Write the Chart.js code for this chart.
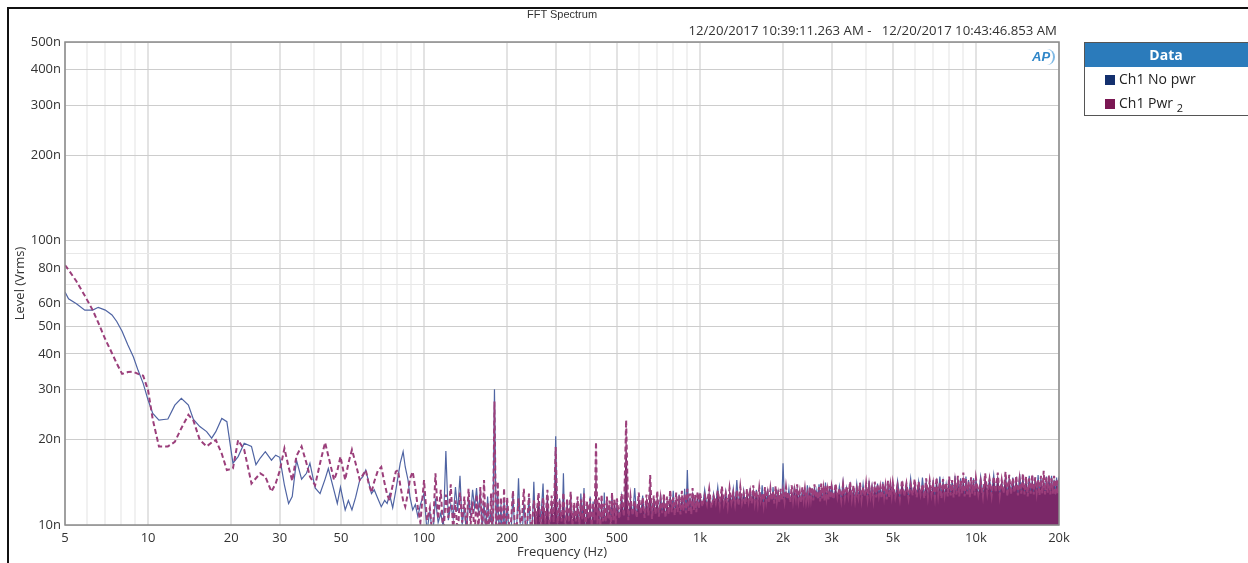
<!DOCTYPE html>
<html>
<head>
<meta charset="utf-8">
<script src="https://cdn.jsdelivr.net/npm/chart.js@4.4.1/dist/chart.umd.min.js"></script>
<style>
  body { margin: 0; background: #fff; font-family: 'Open Sans', sans-serif; }
  #wrap { position: relative; width: 1248px; height: 563px; overflow: hidden; }
  #frame { position: absolute; left: 7px; top: 7px; width: 1300px; height: 600px; border: 2px solid #111; }
  #title { position: absolute; left: 0; width: 1124px; top: 8px; text-align: center; font: 11px 'Liberation Sans', Arial, sans-serif; color: #333; }
  #stamp { position: absolute; right: 191px; top: 21px; font-size: 13.2px; color: #333; white-space: pre; }
  #logo { position: absolute; left: 1031px; top: 49px; font: italic bold 13px 'Liberation Sans', Arial, sans-serif; color: #2f86c8; border-right: 2px solid #7db8e4; border-radius: 0 9px 9px 0; padding: 0 3px 0 1px; line-height: 16px; }
  #legend { position: absolute; left: 1084px; top: 42px; width: 170px; border: 1px solid #555; background: #fff; }
  #legend .head { background: #2b7bbb; color: #fff; font-weight: bold; font-size: 14px; text-align: center; height: 24px; line-height: 24px; padding-right: 8px; }
  #legend .item { height: 24px; line-height: 24px; font-size: 14px; color: #222; padding-left: 20px; }
  #legend .sw { display: inline-block; width: 10px; height: 10px; margin-right: 4px; vertical-align: -1px; }
  canvas { position: absolute; left: 0; top: 0; }
</style>
</head>
<body>
<div id="wrap">
  <div id="frame"></div>
  <canvas id="fft" width="1248" height="563"></canvas>
  <div id="title">FFT Spectrum</div>
  <div id="stamp">12/20/2017 10:39:11.263 AM -   12/20/2017 10:43:46.853 AM</div>
  <div id="logo">AP</div>
  <div id="legend"><div class="head">Data</div></div>
</div>
<script>
// low band, 5 - 100 Hz (levels in nV)
const freqLowHz = [
  5, 5.15, 5.5, 5.9, 6.3, 6.6, 7.0, 7.4, 7.7, 8.05,
  8.45, 8.85, 9.2, 9.6, 10.0, 10.4, 10.95, 11.4, 11.8, 12.5,
  13.2, 14.0, 14.6, 15.4, 16.3, 17.0, 17.6, 18.5, 19.3, 20.3,
  21.2, 22.3, 23.7, 24.6, 25.5, 26.6, 28.0, 29.0, 30.0, 31.2,
  32.3, 33.3, 34.5, 36.0, 37.5, 38.6, 40.3, 42, 43.8, 45,
  47.2, 48.5, 49.8, 51.8, 53.2, 54.8, 56.5, 58.5, 60, 61.5,
  63, 64.5, 66, 68, 70, 72, 73.5, 75, 77, 79,
  80.5, 82, 84, 85.5, 87.5, 89, 91, 93, 95, 97
];
const noPwrLow = [
  66, 62.5, 60, 57, 57, 58.3, 57, 54.8, 52, 48,
  43, 39, 35, 31.5, 27.5, 24.7, 23.4, 23.5, 23.6, 26.4,
  27.9, 26.4, 23.5, 22.2, 21.3, 20.2, 21.3, 23.7, 23.1, 16.5,
  17.4, 19.4, 18.9, 16.3, 17.2, 18.1, 16.9, 17.6, 17.3, 13.8,
  11.9, 12.6, 16.9, 14.5, 15.2, 16.5, 13.5, 12.9, 14.5, 15.8,
  13.2, 11.9, 13.6, 11.3, 12.2, 11.3, 12.5, 14.4, 14.8, 15.6,
  14.2, 12.9, 13.3, 12.4, 11.6, 12.2, 11.9, 12.8, 11.5, 13.2,
  14.8, 16.5, 18.1, 16.0, 14.4, 12.5, 11.3, 11.8, 10.7, 11.8
];
const pwr2Low = [
  82, 79, 72, 64, 57, 51.5, 45, 40.2, 37, 34,
  34.5, 34.6, 34, 33.5, 29.8, 23.5, 18.9, 18.9, 18.9, 19.6,
  21.9, 24.4, 23.3, 19.9, 18.9, 19.5, 19.9, 17.8, 15.6, 15.8,
  19.9, 18.4, 14.0, 14.6, 15.2, 14.8, 13.1, 14.0, 15.5, 18.6,
  16.0, 14.3, 17.5, 18.9, 16.5, 14.8, 13.8, 16.5, 19.5, 17.5,
  14.4, 15.5, 17.4, 14.4, 16.5, 18.4, 16.5, 14.4, 15.0, 15.6,
  14.0, 13.0, 14.2, 15.5, 16.0, 14.0, 12.8, 12.2, 13.8, 15.4,
  15.6, 13.8, 12.2, 11.6, 13.0, 14.6, 15.4, 13.5, 11.5, 10.2
];

// dense band, 100 Hz - 20 kHz: FFT bins, peak then dip
const freqHiHz = [
  100, 102.5, 105, 107.5, 110, 112.5, 115, 117.5, 120, 122.5,
  125, 127.5, 130, 132.5, 135, 137.5, 140, 142.5, 145, 147.5,
  150, 152.5, 155, 157.5, 160, 162.5, 165, 167.5, 170, 172.5,
  175, 177.5, 180, 182.5, 185, 187.5, 190, 192.5, 195, 197.5,
  200, 205, 210, 215, 220, 225, 230, 235, 240, 245,
  250, 255, 260, 265, 270, 275, 280, 285, 290, 295,
  300, 305, 310, 315, 320, 325, 330, 335, 340, 345,
  350, 355, 360, 365, 370, 375, 380, 385, 390, 395,
  400, 405, 410, 415, 420, 425, 430, 435, 440, 445,
  450, 455, 460, 465, 470, 475, 480, 485, 490, 495,
  500, 510, 520, 530, 540, 550, 560, 570, 580, 590,
  600, 610, 620, 630, 640, 650, 660, 670, 680, 690,
  700, 710, 720, 730, 740, 750, 760, 770, 780, 790,
  800, 810, 820, 830, 840, 850, 860, 870, 880, 890,
  900, 910, 920, 930, 940, 950, 960, 970, 980, 990,
  1000, 1020, 1040, 1060, 1080, 1100, 1120, 1140, 1160, 1180,
  1200, 1220, 1240, 1260, 1280, 1300, 1320, 1340, 1360, 1380,
  1400, 1420, 1440, 1460, 1480, 1500, 1520, 1540, 1560, 1580,
  1600, 1620, 1640, 1660, 1680, 1700, 1720, 1740, 1760, 1780,
  1800, 1820, 1840, 1860, 1880, 1900, 1920, 1940, 1960, 1980,
  2000, 2025, 2050, 2075, 2100, 2125, 2150, 2175, 2200, 2225,
  2250, 2275, 2300, 2325, 2350, 2375, 2400, 2425, 2450, 2475,
  2500, 2525, 2550, 2575, 2600, 2625, 2650, 2675, 2700, 2725,
  2750, 2775, 2800, 2825, 2850, 2875, 2900, 2925, 2950, 2975,
  3000, 3050, 3100, 3150, 3200, 3250, 3300, 3350, 3400, 3450,
  3500, 3550, 3600, 3650, 3700, 3750, 3800, 3850, 3900, 3950,
  4000, 4050, 4100, 4150, 4200, 4250, 4300, 4350, 4400, 4450,
  4500, 4550, 4600, 4650, 4700, 4750, 4800, 4850, 4900, 4950,
  5000, 5100, 5200, 5300, 5400, 5500, 5600, 5700, 5800, 5900,
  6000, 6100, 6200, 6300, 6400, 6500, 6600, 6700, 6800, 6900,
  7000, 7100, 7200, 7300, 7400, 7500, 7600, 7700, 7800, 7900,
  8000, 8100, 8200, 8300, 8400, 8500, 8600, 8700, 8800, 8900,
  9000, 9100, 9200, 9300, 9400, 9500, 9600, 9700, 9800, 9900,
  10000, 10200, 10400, 10600, 10800, 11000, 11200, 11400, 11600, 11800,
  12000, 12200, 12400, 12600, 12800, 13000, 13200, 13400, 13600, 13800,
  14000, 14200, 14400, 14600, 14800, 15000, 15200, 15400, 15600, 15800,
  16000, 16200, 16400, 16600, 16800, 17000, 17200, 17400, 17600, 17800,
  18000, 18200, 18400, 18600, 18800, 19000, 19200, 19400, 19600, 19800,
  20000
];
const noPwrHi = [
  12.9, 9.5, 11.2, 9.0, 12.4, 10.2, 11.0, 9.8, 18.2, 10.4,
  11.8, 10.6, 13.6, 11.2, 14.9, 10.0, 11.6, 9.2, 12.5, 10.8,
  13.3, 11.5, 13.5, 11.0, 13.1, 9.6, 12.0, 9.4, 12.6, 10.1,
  11.2, 9.0, 30.0, 9.6, 13.0, 8.8, 11.8, 8.5, 12.4, 8.5,
  12.2, 8, 12.8, 8, 14.6, 8, 11.9, 9, 12.5, 8,
  14.2, 8, 12.0, 10.5, 14.0, 8, 12.6, 8, 11.8, 8,
  20.5, 8, 12.4, 8, 15.2, 8, 12.0, 9, 12.8, 8,
  11.6, 8, 12.2, 8, 12.9, 10.4, 13.5, 8, 11.8, 8,
  12.6, 8, 12.1, 9, 12.8, 8, 11.7, 8, 12.3, 8,
  13.0, 8, 12.0, 8, 11.6, 10.5, 12.7, 8, 12.2, 8,
  12.0, 10.4, 12.6, 10.6, 13.0, 10.3, 12.2, 10.7, 13.5, 10.5,
  12.1, 10.8, 12.7, 10.4, 12.0, 10.6, 12.9, 10.3, 12.4, 10.7,
  12.0, 10.5, 12.8, 10.8, 12.3, 10.4, 11.9, 10.6, 12.6, 10.9,
  13.2, 10.7, 12.1, 10.5, 12.8, 11.0, 12.4, 10.6, 13.4, 10.8,
  15.6, 10.9, 12.5, 10.7, 13.0, 11.0, 12.2, 10.8, 12.9, 11.1,
  12.6, 11.4, 13.3, 11.6, 12.4, 11.3, 12.9, 11.7, 13.6, 11.5,
  12.5, 11.6, 13.1, 11.4, 12.8, 11.8, 13.4, 11.5, 14.4, 11.7,
  12.7, 11.6, 13.2, 11.9, 12.6, 11.5, 13.5, 11.8, 12.9, 11.6,
  13.3, 11.9, 12.5, 11.7, 13.8, 11.8, 12.9, 12.0, 13.4, 11.7,
  12.7, 11.9, 13.6, 11.8, 13.0, 12.1, 13.3, 11.9, 12.8, 12.0,
  16.5, 11.9, 12.9, 12.1, 13.4, 11.8, 13.0, 12.2, 13.7, 12.0,
  13.2, 12.1, 12.8, 11.9, 13.5, 12.2, 13.1, 12.0, 13.8, 12.3,
  13.3, 12.1, 12.9, 12.0, 13.6, 12.3, 13.2, 12.1, 13.9, 12.2,
  13.0, 12.2, 13.5, 12.4, 14.1, 12.1, 13.2, 12.3, 13.6, 12.2,
  13.9, 12.3, 13.3, 12.1, 13.7, 12.4, 14.2, 12.2, 13.5, 12.3,
  13.8, 12.4, 13.2, 12.2, 14.0, 12.5, 13.6, 12.3, 13.9, 12.4,
  13.4, 12.2, 14.3, 12.5, 13.7, 12.3, 13.5, 12.4, 14.0, 12.6,
  13.6, 12.3, 14.2, 12.5, 13.8, 12.4, 13.5, 12.6, 14.1, 12.4,
  13.7, 12.2, 14.3, 12.4, 13.9, 12.3, 14.0, 12.5, 14.6, 12.3,
  13.8, 12.4, 14.2, 12.2, 14.7, 12.5, 14.0, 12.3, 13.9, 12.4,
  14.4, 12.5, 14.1, 12.3, 14.8, 12.6, 14.2, 12.4, 13.9, 12.5,
  14.5, 12.4, 14.3, 12.6, 14.9, 12.5, 14.1, 12.7, 14.6, 12.5,
  14.2, 12.6, 14.8, 12.4, 14.4, 12.7, 14.0, 12.5, 14.6, 12.6,
  14.3, 12.5, 14.8, 12.7, 14.1, 12.6, 14.6, 12.8, 15.0, 12.6,
  14.4, 12.7, 14.2, 12.5, 14.9, 12.8, 14.5, 12.6, 14.7, 12.7,
  14.3, 12.6, 15.1, 12.8, 14.6, 12.7, 14.4, 12.5, 14.9, 12.8,
  14.2, 12.7, 14.7, 12.6, 15.0, 12.8, 14.5, 12.7, 14.3, 12.6,
  14.8, 12.8, 14.6, 12.7, 14.9, 12.6, 14.4, 12.8, 14.7, 12.7,
  14.8
];
const pwr2Hi = [
  14.4, 10.4, 11.5, 9.0, 15.2, 10.5, 13.3, 9.2, 12.8, 10.6,
  13.9, 9.5, 12.2, 9.0, 13.0, 10.2, 12.6, 9.4, 13.4, 10.0,
  12.1, 9.1, 12.8, 9.6, 13.6, 9.3, 14.4, 9.0, 12.0, 8.8,
  12.9, 8.5, 27.2, 8.5, 14.2, 8.5, 12.5, 8.5, 13.5, 8.5,
  12.5, 9.0, 13.2, 8.5, 12.4, 9.5, 13.4, 8.8, 12.9, 9.2,
  12.2, 10.4, 13.0, 9.6, 12.5, 10.1, 13.3, 9.4, 12.7, 10.2,
  18.8, 9.8, 12.2, 10.3, 13.0, 9.5, 12.4, 10.2, 13.1, 9.9,
  12.0, 10.3, 12.6, 9.7, 12.3, 10.4, 12.9, 9.8, 12.1, 10.5,
  12.4, 9.9, 12.0, 10.4, 19.6, 10.1, 12.5, 9.6, 12.8, 10.3,
  11.9, 10.2, 12.6, 10.5, 12.2, 9.9, 13.0, 10.4, 12.4, 10.1,
  12.4, 10.5, 12.9, 10.7, 23.4, 10.4, 12.6, 10.8, 12.2, 10.6,
  13.0, 10.9, 12.5, 10.6, 12.8, 10.8, 15.0, 10.5, 12.7, 10.9,
  13.2, 10.7, 12.4, 11.0, 12.9, 10.6, 12.6, 10.9, 13.3, 11.1,
  12.5, 10.8, 13.0, 11.1, 12.7, 10.9, 13.2, 11.2, 12.8, 11.0,
  13.4, 11.2, 12.9, 10.9, 13.5, 11.3, 12.8, 11.1, 13.1, 11.4,
  13.0, 11.6, 12.7, 11.8, 13.4, 11.5, 12.6, 11.9, 13.2, 11.7,
  13.7, 11.9, 12.9, 11.6, 13.5, 12.0, 13.0, 11.8, 13.3, 11.7,
  13.6, 12.0, 12.9, 11.8, 13.4, 12.1, 13.1, 11.9, 13.8, 12.0,
  13.2, 11.9, 13.5, 12.2, 12.9, 11.8, 13.6, 12.1, 13.0, 12.0,
  13.4, 12.2, 13.1, 11.9, 13.7, 12.1, 12.9, 12.0, 13.4, 12.2,
  13.2, 12.1, 13.6, 12.3, 13.0, 12.0, 13.8, 12.2, 13.3, 12.4,
  13.9, 12.2, 13.1, 12.0, 13.6, 12.3, 13.4, 12.1, 12.9, 12.2,
  13.7, 12.4, 13.5, 12.2, 13.9, 12.5, 13.2, 12.3, 13.6, 12.1,
  14.0, 12.4, 13.4, 12.2, 13.8, 12.5, 13.3, 12.3, 13.7, 12.4,
  13.6, 12.3, 14.0, 12.5, 13.5, 12.2, 13.9, 12.4, 13.7, 12.6,
  14.2, 12.4, 13.8, 12.2, 13.4, 12.5, 14.1, 12.3, 13.6, 12.6,
  14.0, 12.4, 13.8, 12.6, 13.5, 12.3, 14.2, 12.5, 13.9, 12.7,
  13.6, 12.4, 14.0, 12.6, 13.7, 12.3, 14.3, 12.5, 13.8, 12.7,
  14.1, 12.5, 13.8, 12.3, 14.4, 12.6, 14.0, 12.4, 13.9, 12.7,
  14.5, 12.5, 14.2, 12.8, 13.9, 12.4, 14.6, 12.6, 14.3, 12.8,
  14.0, 12.5, 14.7, 12.7, 14.2, 12.4, 14.5, 12.8, 14.1, 12.6,
  14.8, 12.7, 14.4, 12.5, 14.2, 12.8, 14.9, 12.6, 14.3, 12.9,
  15.3, 12.6, 14.5, 12.8, 14.2, 12.5, 14.7, 12.9, 14.4, 12.7,
  14.6, 12.8, 14.3, 12.6, 15.2, 12.9, 14.5, 12.7, 14.8, 13.0,
  15.3, 12.7, 14.4, 12.9, 15.4, 12.6, 15.0, 12.8, 14.6, 13.0,
  14.9, 12.7, 14.5, 12.9, 15.2, 12.8, 14.8, 12.6, 14.6, 12.9,
  15.1, 12.8, 14.7, 13.0, 14.4, 12.7, 14.9, 12.9, 15.5, 12.8,
  14.7, 13.0, 15.0, 12.8, 14.6, 12.9, 14.9, 12.7, 14.5, 12.9,
  14.6
];

const seriesNames = ["Ch1 No pwr", "Ch1 Pwr"];
const seriesColors = ["#14306e", "#7a1753"];

const xGridHz = [5, 6, 7, 8, 9, 10, 20, 30, 40, 50, 60, 70, 80, 90,
  100, 200, 300, 400, 500, 600, 700, 800, 900,
  1000, 2000, 3000, 4000, 5000, 6000, 7000, 8000, 9000, 10000, 20000];
const xLabelHz = [5, 10, 20, 30, 50, 100, 200, 300, 500, 1000, 2000, 3000, 5000, 10000, 20000];
const xLabelText = ["5", "10", "20", "30", "50", "100", "200", "300", "500", "1k", "2k", "3k", "5k", "10k", "20k"];
const yGridNv = [10, 20, 30, 40, 50, 60, 70, 80, 90, 100, 200, 300, 400, 500];
const yLabelNv = [10, 20, 30, 40, 50, 60, 80, 100, 200, 300, 400, 500];

function toPoints(fLow, vLow, fHi, vHi) {
  const pts = fLow.map((f, i) => ({ x: f, y: vLow[i] }));
  return pts.concat(fHi.map((f, i) => ({ x: f, y: vHi[i] })));
}

// legend box
const legend = document.getElementById("legend");
seriesNames.forEach((name, i) => {
  const row = document.createElement("div");
  row.className = "item";
  row.innerHTML = '<span class="sw" style="background:' + seriesColors[i] + '"></span>' + name +
    (i === 1 ? ' <sub style="font-size:11px">2</sub>' : "");
  legend.appendChild(row);
});

const plotFrame = {
  id: "plotFrame",
  afterDatasetsDraw(chart) {
    const { ctx, chartArea: a } = chart;
    ctx.save();
    ctx.strokeStyle = "#8a8a8a";
    ctx.lineWidth = 1.5;
    ctx.strokeRect(a.left, a.top, a.right - a.left, a.bottom - a.top);
    ctx.restore();
  },
};

Chart.defaults.font.family = "'Open Sans', sans-serif";
Chart.defaults.font.size = 13;
Chart.defaults.color = "#333";

new Chart(document.getElementById("fft"), {
  type: "line",
  data: {
    datasets: [
      {
        label: "Ch1 No pwr",
        data: toPoints(freqLowHz, noPwrLow, freqHiHz, noPwrHi),
        borderColor: "#4f64a3",
        borderWidth: 1.2,
        pointRadius: 0,
        order: 1,
        clip: 0,
      },
      {
        label: "Ch1 Pwr 2",
        data: toPoints(freqLowHz, pwr2Low, freqHiHz, pwr2Hi),
        borderColor: "#9b3f7b",
        borderWidth: 2,
        borderDash: [5, 3],
        pointRadius: 0,
        order: 0,
        clip: 0,
        fill: "start",
        backgroundColor: "rgba(0,0,0,0)",
        segment: {
          backgroundColor: (c) => (c.p0.parsed.x >= 250 ? "#7a2868" : undefined),
        },
      },
    ],
  },
  plugins: [plotFrame],
  options: {
    responsive: false,
    animation: false,
    devicePixelRatio: 1,
    layout: { padding: { top: 42, right: 189, left: 0, bottom: 0 } },
    plugins: {
      legend: { display: false },
      tooltip: { enabled: false },
    },
    scales: {
      x: {
        type: "logarithmic",
        min: 5,
        max: 20000,
        afterBuildTicks: (s) => { s.ticks = xGridHz.map((v) => ({ value: v })); },
        afterFit: (s) => { s.height = 38; },
        border: { display: false },
        grid: {
          drawTicks: false,
          lineWidth: 2,
          color: (c) => (c.tick && xLabelHz.includes(c.tick.value) ? "#e3e3e3" : "#f1f1f1"),
        },
        ticks: {
          autoSkip: false,
          maxRotation: 0,
          padding: 5,
          callback: (v) => {
            const i = xLabelHz.indexOf(v);
            return i < 0 ? "" : xLabelText[i];
          },
        },
        title: {
          display: true,
          text: "Frequency (Hz)",
          padding: { top: 0, bottom: 3 },
        },
      },
      y: {
        type: "logarithmic",
        min: 10,
        max: 500,
        afterBuildTicks: (s) => { s.ticks = yGridNv.map((v) => ({ value: v })); },
        afterFit: (s) => { s.width = 65; },
        border: { display: false },
        grid: {
          drawTicks: false,
          lineWidth: 1,
          color: (c) => (c.tick && yLabelNv.includes(c.tick.value) ? "#cdcdcd" : "#e8e8e8"),
        },
        ticks: {
          autoSkip: false,
          padding: 4,
          callback: (v) => (yLabelNv.includes(v) ? v + "n" : ""),
        },
        title: {
          display: true,
          text: "Level (Vrms)",
          padding: { top: 12, bottom: 0 },
        },
      },
    },
  },
});
</script>
</body>
</html>
